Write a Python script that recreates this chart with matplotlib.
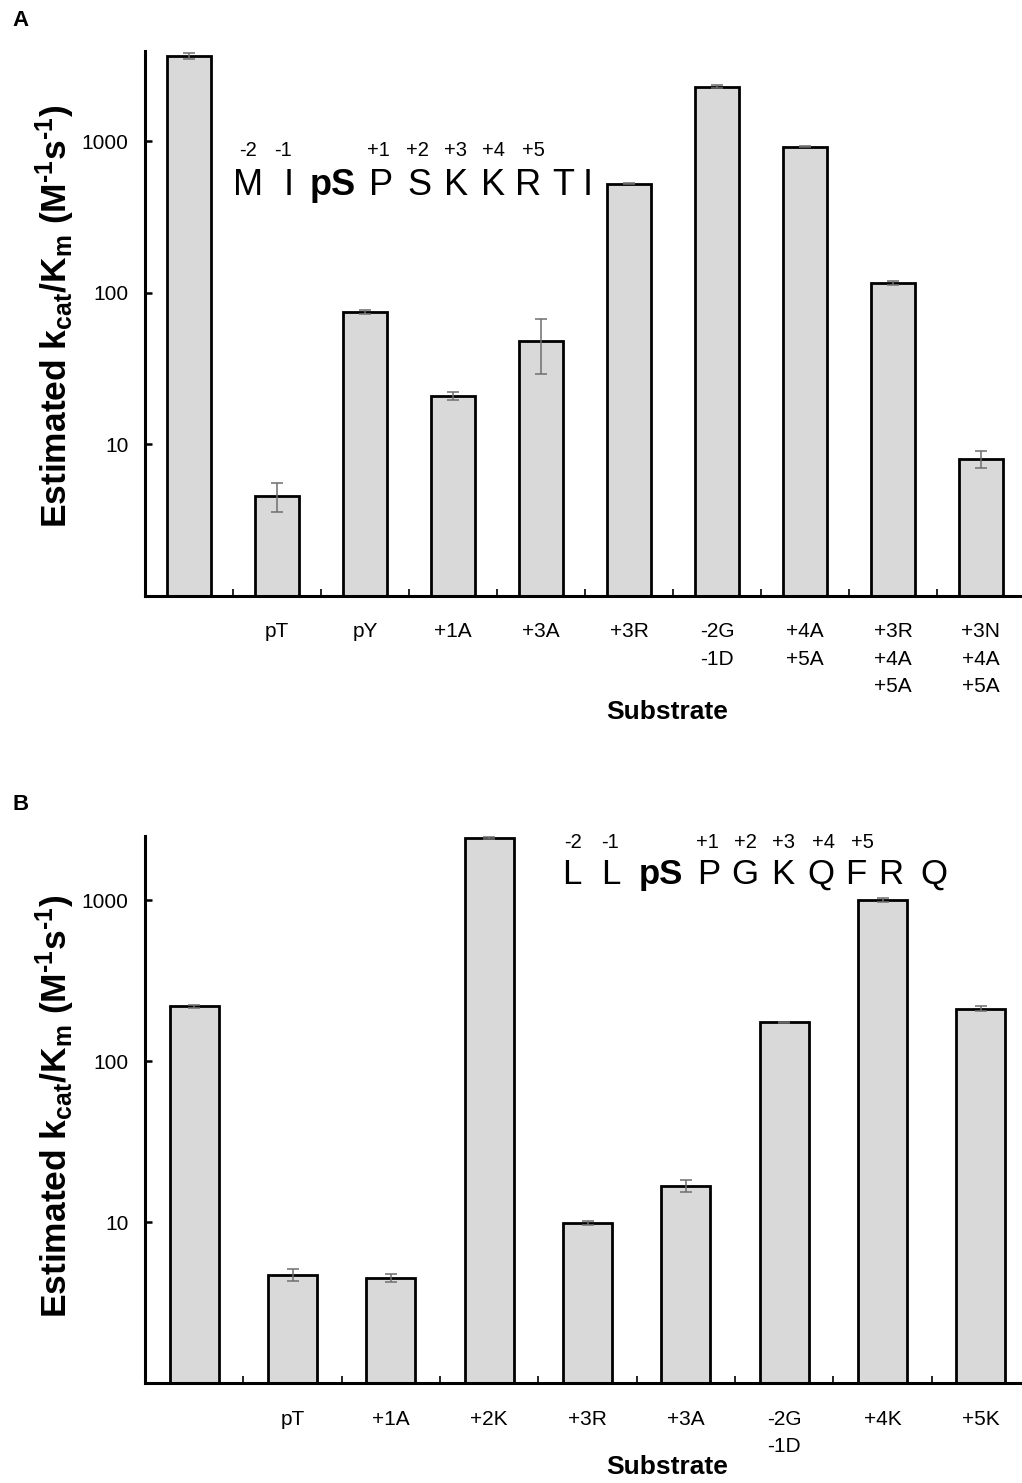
import matplotlib
matplotlib.use('Agg')
import matplotlib.pyplot as plt
from matplotlib.ticker import FixedLocator, NullFormatter, NullLocator

plt.rcParams['font.family'] = ['Liberation Sans', 'DejaVu Sans']
plt.rcParams['mathtext.fontset'] = 'custom'
plt.rcParams['mathtext.rm'] = 'Liberation Sans:bold'
plt.rcParams['mathtext.default'] = 'rm'

# panel A: MIpSPSKKRTI substrates
a_labels = ['', 'pT', 'pY', '+1A', '+3A', '+3R', '-2G\n-1D', '+4A\n+5A',
            '+3R\n+4A\n+5A', '+3N\n+4A\n+5A']
a_vals = [3650, 4.6, 75, 21, 48, 527, 2300, 925, 116, 8.0]
a_err = [170, 1.0, 2, 1.2, 19, 5, 60, 10, 4, 1.0]

# panel B: LLpSPGKQFRQ substrates
b_labels = ['', 'pT', '+1A', '+2K', '+3R', '+3A', '-2G\n-1D', '+4K', '+5K']
b_vals = [219, 4.7, 4.5, 2430, 9.9, 16.8, 174, 1000, 212]
b_err = [4, 0.4, 0.25, 50, 0.3, 1.5, 2, 25, 7]

# peptide sequences drawn above the bars
a_seq = ['M', 'I', 'pS', 'P', 'S', 'K', 'K', 'R', 'T', 'I']
a_seq_x = [248, 289, 333, 381, 419, 456, 493, 528, 563, 588]
b_seq = ['L', 'L', 'pS', 'P', 'G', 'K', 'Q', 'F', 'R', 'Q']
b_seq_x = [572, 611, 661, 709, 745, 783, 821, 856, 891, 934]
pos_labels = ['-2', '-1', '+1', '+2', '+3', '+4', '+5']
a_pos_x = [248, 283, 378, 417, 455, 493, 533]
b_pos_x = [573, 610, 707, 745, 783, 823, 862]

W, H = 1022, 1483
fig = plt.figure(figsize=(W / 100, H / 100), dpi=100)

# hyphen (U+2010) keeps the superscript dash short like plain text
ylabel = ('Estimated k$_{\\mathregular{cat}}$/K$_{\\mathregular{m}}$ '
          '(M$^{\\mathregular{\u20101}}$s$^{\\mathregular{\u20101}}$)')


def panel(rect, labels, vals, err, ylim, label_pad):
    ax = fig.add_axes(rect)
    x = list(range(len(vals)))
    ax.bar(x, vals, width=0.5, color='#d9d9d9', edgecolor='black', linewidth=2.0,
           zorder=2)
    ax.errorbar(x, vals, yerr=err, fmt='none', ecolor='#6e6e6e', elinewidth=1.1,
                capsize=4, capthick=1.1, zorder=3)
    ax.set_yscale('log')
    ax.set_ylim(*ylim)
    ax.set_xlim(-0.5, len(vals) - 0.5)
    ax.yaxis.set_major_locator(FixedLocator([10, 100, 1000]))
    ax.yaxis.set_minor_locator(NullLocator())
    ax.set_yticklabels(['10', '100', '1000'])
    ax.yaxis.set_minor_formatter(NullFormatter())
    ax.tick_params(axis='y', direction='in', length=5, width=1.8, labelsize=15,
                   pad=12)
    ax.set_xticks(x)
    ax.set_xticklabels(labels, fontsize=15, linespacing=1.55,
                       family=['Liberation Sans Narrow', 'Liberation Sans'])
    ax.tick_params(axis='x', which='major', length=0, pad=label_pad)
    ax.set_xticks([i + 0.5 for i in x[:-1]], minor=True)
    ax.tick_params(axis='x', which='minor', direction='in', length=5, width=1.2)
    for s in ['top', 'right']:
        ax.spines[s].set_visible(False)
    for s in ['left', 'bottom']:
        ax.spines[s].set_linewidth(2.2)
    return ax


ax_a = panel([145 / W, 1 - 596 / H, 880 / W, (596 - 51) / H],
             a_labels, a_vals, a_err, (1, 3950), 19)
ax_b = panel([145 / W, 1 - 1383 / H, 885 / W, (1383 - 836) / H],
             b_labels, b_vals, b_err, (1, 2500), 19.5)

for ax, yc, xl_y in [(ax_a, 316, 712), (ax_b, 1106, 1467)]:
    fig.text(55 / W, 1 - yc / H, ylabel, rotation=90, ha='center', va='center',
             fontsize=25.5, fontweight='bold')
    fig.text(667 / W, 1 - xl_y / H, 'Substrate', ha='center', va='center',
             fontsize=19, fontweight='bold',
             family=['Liberation Sans Narrow', 'Liberation Sans'])

fig.text(12 / W, 1 - 21 / H, 'A', fontsize=16, fontweight='bold', va='center')
fig.text(12 / W, 1 - 804 / H, 'B', fontsize=16, fontweight='bold', va='center')


def sequence(seq, seq_x, base_y, pos_x, pos_y, size):
    for ch, xp in zip(seq, seq_x):
        fig.text(xp / W, 1 - base_y / H, ch, ha='center', va='baseline',
                 fontsize=size, fontweight='bold' if ch == 'pS' else 'normal')
    for lab, xp in zip(pos_labels, pos_x):
        fig.text(xp / W, 1 - pos_y / H, lab, ha='center', va='baseline',
                 fontsize=14.5)


sequence(a_seq, a_seq_x, 195, a_pos_x, 156, 26)
sequence(b_seq, b_seq_x, 884, b_pos_x, 848, 25)

fig.savefig('out.png', dpi=100)
